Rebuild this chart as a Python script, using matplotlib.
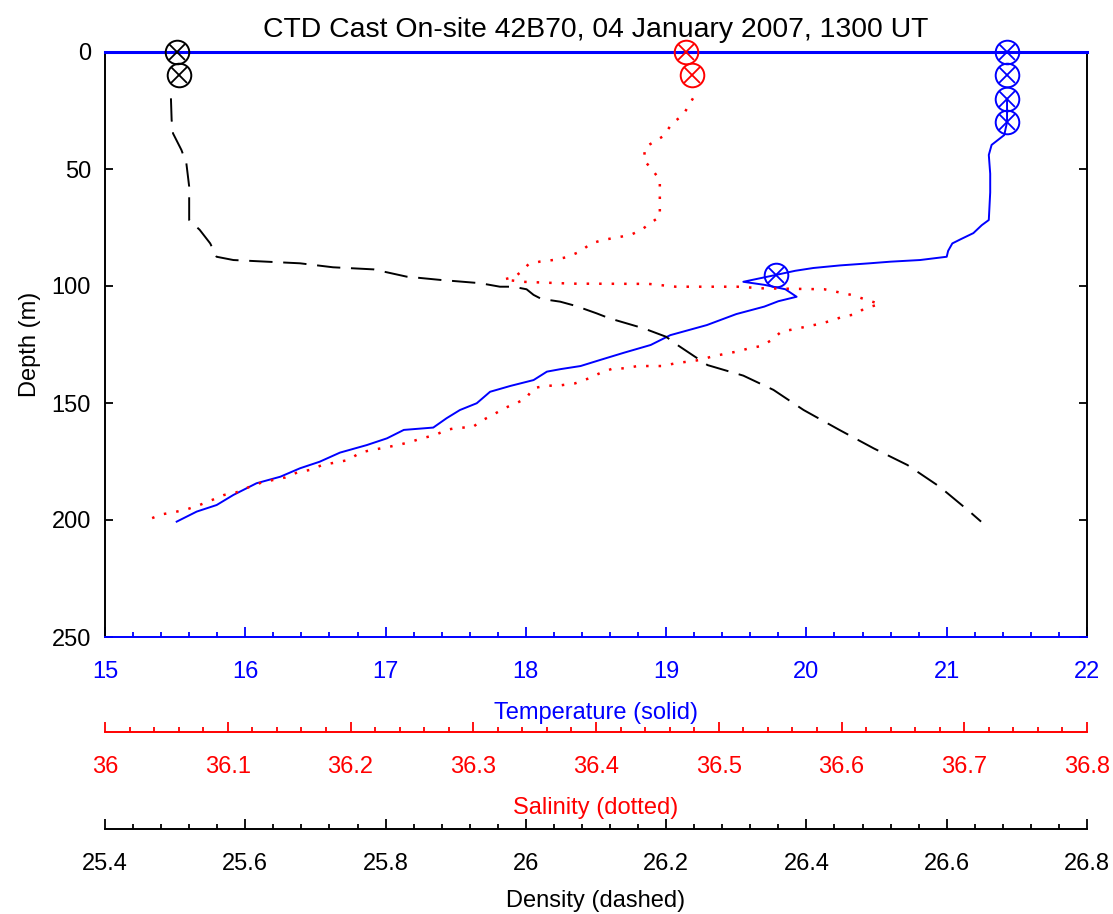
import matplotlib
matplotlib.use("Agg")
import matplotlib.pyplot as plt
from matplotlib.ticker import MultipleLocator

plt.rcParams['font.family'] = ['Liberation Sans', 'DejaVu Sans']
plt.rcParams['font.size'] = 17

# temperature profile (depth m, deg C)
temp_depth = [20, 30, 35.5, 39.7, 44, 52, 60, 71.8, 74, 77.4, 80, 81.8, 85, 87.5,
              88.9, 89.6, 90.3, 91.2, 92.3, 93.5, 95.3, 98.2, 99.5, 101.4, 104.6,
              106.5, 108.8, 112, 116.7, 121, 125.2, 128.5, 131.6, 134.2, 135.5,
              136.6, 140.2, 142.7, 145.2, 150.1, 153, 156.5, 160.5, 161.5, 165.1,
              168, 171.2, 175.1, 177.9, 181.5, 184.3, 189.3, 193.6, 196.4, 200.7]
temp_val = [21.43, 21.43, 21.41, 21.32, 21.30, 21.31, 21.31, 21.30, 21.25, 21.19,
            21.10, 21.04, 21.01, 21.00, 20.81, 20.60, 20.45, 20.24, 20.05, 19.92,
            19.78, 19.55, 19.70, 19.85, 19.93, 19.80, 19.70, 19.50, 19.29, 19.03,
            18.89, 18.70, 18.53, 18.39, 18.25, 18.15, 18.055, 17.89, 17.745, 17.65,
            17.53, 17.435, 17.34, 17.13, 17.01, 16.865, 16.675, 16.53, 16.39, 16.25,
            16.08, 15.915, 15.796, 15.654, 15.511]

# salinity profile
sal_depth = [19.8, 26.9, 30.5, 35.9, 40.7, 46.2, 50.4, 54.7, 64.7, 70.4, 72.5, 76,
             78.2, 80.3, 81.8, 85.3, 87.7, 88.9, 89.6, 90.7, 93.5, 96, 97.2, 98.2,
             99, 99.1, 100.3, 100.3, 101, 101.4, 103.8, 107.7, 109.8, 112, 113.1,
             114.8, 116.2, 117.4, 118.4, 119.5, 123.1, 125.6, 126.6, 128, 129, 130.2,
             131.6, 133, 134.2, 134.2, 135.2, 135.2, 137.3, 139.5, 141.6, 142.6,
             142.6, 143.7, 148, 150.1, 152.3, 155.1, 157.5, 160.5, 160.5, 161.5,
             163.7, 165.1, 166.8, 168, 169.1, 170.1, 171.2, 174.4, 175.5, 176.5,
             178.6, 179.6, 181.8, 182.9, 183.9, 186, 188.2, 189.3, 191.5, 193.6,
             195.4, 196.7, 197.6, 199.7]
sal_val = [36.479, 36.471, 36.462, 36.455, 36.440, 36.439, 36.446, 36.452, 36.452,
           36.452, 36.446, 36.437, 36.428, 36.406, 36.396, 36.387, 36.376, 36.365,
           36.354, 36.345, 36.340, 36.334, 36.325, 36.340, 36.381, 36.443, 36.465,
           36.515, 36.536, 36.586, 36.608, 36.631, 36.618, 36.612, 36.601, 36.592,
           36.582, 36.571, 36.562, 36.551, 36.543, 36.535, 36.525, 36.515, 36.505,
           36.494, 36.485, 36.465, 36.454, 36.434, 36.423, 36.414, 36.403, 36.394,
           36.383, 36.369, 36.359, 36.349, 36.343, 36.335, 36.325, 36.316, 36.307,
           36.299, 36.288, 36.278, 36.269, 36.258, 36.248, 36.238, 36.228, 36.217,
           36.208, 36.198, 36.187, 36.177, 36.167, 36.157, 36.147, 36.137, 36.128,
           36.117, 36.107, 36.097, 36.087, 36.077, 36.067, 36.056, 36.046, 36.036]

# density (sigma-t) profile
dens_depth = [19.8, 29, 34.8, 41.9, 47.6, 57.5, 71.8, 76, 81.8, 87.5, 88.9, 89.6,
              90.3, 92, 92.9, 96, 97.4, 98.8, 100.3, 100.3, 101.4, 103.8, 105.5,
              106.7, 108.5, 111.7, 113.8, 118.1, 121.7, 125.2, 133.8, 138.3, 144.4,
              153, 161.5, 169.4, 176.5, 185.8, 196.5, 200.7]
dens_val = [25.494, 25.495, 25.497, 25.509, 25.516, 25.520, 25.520, 25.535, 25.550,
            25.559, 25.583, 25.630, 25.678, 25.725, 25.783, 25.830, 25.878, 25.935,
            25.963, 25.982, 26.001, 26.011, 26.022, 26.049, 26.071, 26.101, 26.119,
            26.168, 26.200, 26.216, 26.259, 26.310, 26.353, 26.396, 26.447, 26.496,
            26.544, 26.590, 26.633, 26.649]

# bottle samples
temp_mk_depth = [0, 10, 20, 30, 95.3]
temp_mk_val = [21.43, 21.43, 21.43, 21.43, 19.78]
sal_mk_depth = [0, 10]
sal_mk_val = [36.473, 36.478]
dens_mk_depth = [0, 10]
dens_mk_val = [25.503, 25.506]

BLUE = (0, 0, 1)
RED = (1, 0, 0)

fig = plt.figure(figsize=(11.13, 9.14), dpi=100)
ax = fig.add_axes([105 / 1113, 1 - 637 / 914, 982 / 1113, 585 / 914])


def ox(a, xs, ys, c):
    a.plot(xs, ys, 'o', ms=17, mfc='none', mec=c, mew=1.4, clip_on=False, zorder=5)
    a.plot(xs, ys, 'x', ms=11.5, mec=c, mew=1.3, clip_on=False, zorder=5)


# temperature on the main axes
ax.plot(temp_val, temp_depth, '-', color=BLUE, lw=1.4)
ox(ax, temp_mk_val, temp_mk_depth, BLUE)
ax.set_xlim(15, 22)
ax.set_ylim(250, 0)
ax.xaxis.set_major_locator(MultipleLocator(1))
ax.xaxis.set_minor_locator(MultipleLocator(0.2))
ax.yaxis.set_major_locator(MultipleLocator(50))
ax.tick_params(axis='x', which='both', direction='in', top=True, bottom=True,
               colors=BLUE, pad=17, width=1.3)
ax.tick_params(axis='x', which='major', length=7)
ax.tick_params(axis='x', which='minor', length=3.5)
ax.tick_params(axis='y', direction='in', left=True, right=True, length=6,
               width=1.3, pad=10)
for s in ['bottom', 'top']:
    ax.spines[s].set_color(BLUE)
ax.spines['top'].set_linewidth(2.2)
ax.spines['bottom'].set_linewidth(1.4)
ax.spines['left'].set_linewidth(1.4)
ax.spines['right'].set_linewidth(1.4)
ax.set_xlabel('Temperature (solid)', color=BLUE, labelpad=14)
ax.set_ylabel('Depth (m)', labelpad=8)
ax.set_title('CTD Cast On-site 42B70, 04 January 2007, 1300 UT', pad=11)


def extra_axis(offset, lo, hi, major, minor, color, label, lpad):
    a = ax.twiny()
    a.set_xlim(lo, hi)
    a.xaxis.set_ticks_position('bottom')
    a.xaxis.set_label_position('bottom')
    a.spines['bottom'].set_position(('outward', offset))
    for s in ['top', 'left', 'right']:
        a.spines[s].set_visible(False)
    a.spines['bottom'].set_color(color)
    a.spines['bottom'].set_linewidth(1.4)
    a.xaxis.set_major_locator(MultipleLocator(major))
    a.xaxis.set_minor_locator(MultipleLocator(minor))
    a.tick_params(axis='x', which='both', direction='in', colors=color, pad=17,
                  width=1.3)
    a.tick_params(axis='x', which='major', length=7)
    a.tick_params(axis='x', which='minor', length=3.5)
    a.set_xlabel(label, color=color, labelpad=lpad)
    a.xaxis.set_major_formatter(plt.FuncFormatter(lambda v, p: ('%g' % round(v, 3))))
    return a


ax_s = extra_axis(68.4, 36.0, 36.8, 0.1, 0.02, RED, 'Salinity (dotted)', 14)
ax_s.plot(sal_val, sal_depth, color=RED, lw=1.8, linestyle=(0, (1, 4)))
ox(ax_s, sal_mk_val, sal_mk_depth, RED)

ax_d = extra_axis(138.2, 25.4, 26.8, 0.2, 0.04, 'black', 'Density (dashed)', 11)
ax_d.plot(dens_val, dens_depth, color='black', lw=1.4, linestyle=(0, (12, 5.5)))
ox(ax_d, dens_mk_val, dens_mk_depth, 'black')
ax_d.set_ylim(250, 0)
ax_s.set_ylim(250, 0)

fig.savefig('out.png', dpi=100)
